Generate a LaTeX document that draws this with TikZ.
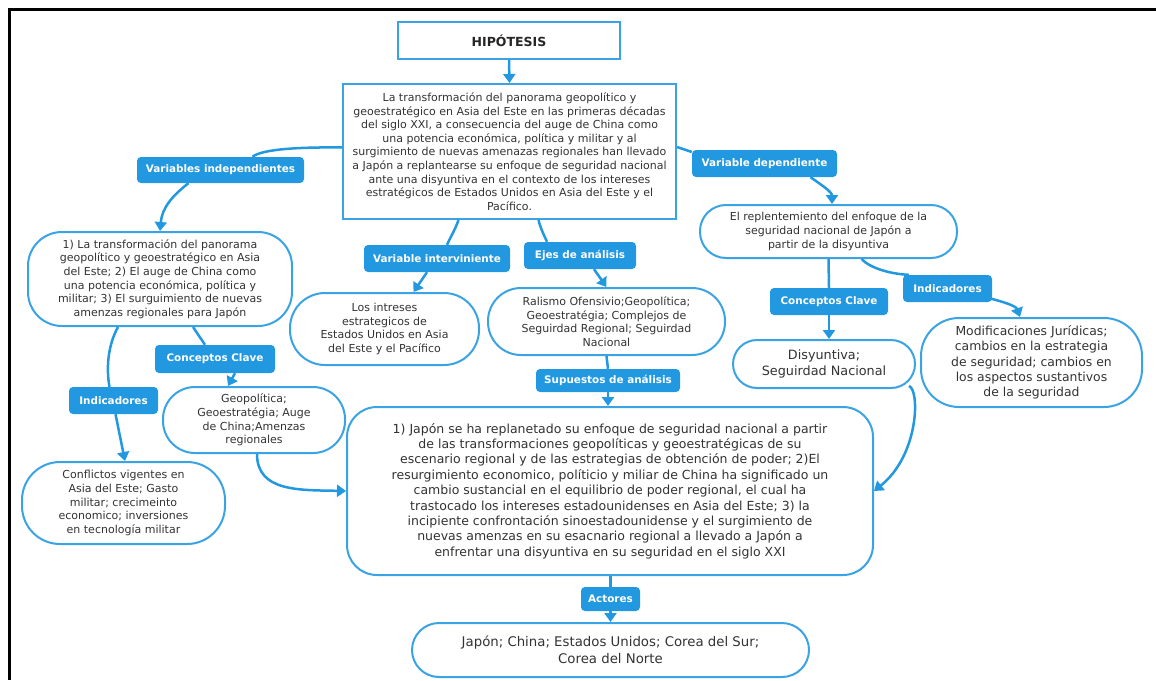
\documentclass[tikz,border=0pt]{standalone}
\usepackage{fontspec}
\setmainfont{DejaVu Sans}
\usetikzlibrary{arrows.meta,calc}
\definecolor{edgeblue}{RGB}{58,163,228}
\definecolor{tagblue}{RGB}{33,152,224}
\definecolor{wireblue}{RGB}{33,152,224}
\definecolor{ink}{RGB}{51,51,51}

\begin{document}
\begin{tikzpicture}[x=1pt,y=-1pt,
  box/.style={draw=edgeblue, line width=2pt, fill=white, text=ink, align=center, inner sep=0pt},
  pill/.style={box, rounded corners=#1},
  small/.style={font=\fontsize{11}{13.6}\selectfont},
  large/.style={font=\fontsize{12.5}{15.4}\selectfont},
  tag/.style={fill=tagblue, rounded corners=4pt, text=white, inner sep=0pt,
    font=\fontsize{10.4}{12}\selectfont\bfseries},
  wire/.style={draw=wireblue, line width=2.5pt},
  arr/.style={wire, -{Triangle[width=12pt,length=9pt]}}
]
\useasboundingbox (0,0) rectangle (1156,680);

% frame
\draw[line width=2.8pt, black] (1156,9.7) -- (9.7,9.7) -- (9.7,680);

% top of the hierarchy
\node[box, minimum width=222pt, minimum height=37pt, text=black!85,
      font=\fontsize{12.5}{14}\selectfont\bfseries] (hip) at (509,40.5) {HIPÓTESIS};
\node[box, small, minimum width=333pt, minimum height=135pt] (main) at (509.5,151.5)
  {La transformación del panorama geopolítico y\\
   geoestratégico en Asia del Este en las primeras décadas\\
   del siglo XXI, a consecuencia del auge de China como\\
   una potencia económica, política y militar y al\\
   surgimiento de nuevas amenazas regionales han llevado\\
   a Japón a replantearse su enfoque de seguridad nacional\\
   ante una disyuntiva en el contexto de los intereses\\
   estratégicos de Estados Unidos en Asia del Este y el\\
   Pacífico.};

% left branch
\node[tag, minimum width=167pt, minimum height=26pt] (vi) at (220.5,170) {Variables independientes};
\node[pill=34pt, small, minimum width=264pt, minimum height=94pt] (n1) at (160,279)
  {1) La transformación del panorama\\
   geopolítico y geoestratégico en Asia\\
   del Este; 2) El auge de China como\\
   una potencia económica, política y\\
   militar; 3) El surguimiento de nuevas\\
   amenzas regionales para Japón};
\node[tag, minimum width=89pt, minimum height=27pt] (ind1) at (113.5,400.5) {Indicadores};
\node[pill=38pt, small, minimum width=203pt, minimum height=82pt] (confl) at (123.5,503)
  {Conflictos vigentes en\\ Asia del Este; Gasto\\ militar; crecimeinto\\ economico; inversiones\\ en tecnología militar};
\node[tag, minimum width=120pt, minimum height=28pt] (cc1) at (215,359) {Conceptos Clave};
\node[pill=32pt, small, minimum width=182pt, minimum height=66pt] (geo) at (254,420)
  {Geopolítica;\\ Geoestratégia; Auge\\ de China;Amenzas\\ regionales};

% middle branch
\node[tag, minimum width=146pt, minimum height=27pt] (vint) at (437,258.5) {Variable interviniente};
\node[pill=35pt, small, minimum width=189pt, minimum height=72pt] (n2) at (384.5,329)
  {Los intreses\\ estrategicos de\\ Estados Unidos en Asia\\ del Este y el Pacífico};
\node[tag, minimum width=112pt, minimum height=27pt] (ejes) at (580,255.5) {Ejes de análisis};
\node[pill=33pt, small, minimum width=237pt, minimum height=67pt] (n3) at (606.5,321.5)
  {Ralismo Ofensivio;Geopolítica;\\ Geoestratégia; Complejos de\\ Seguirdad Regional; Seguirdad\\ Nacional};
\node[tag, minimum width=144pt, minimum height=23pt] (sup) at (608,380.5) {Supuestos de análisis};
\node[pill=30pt, large, minimum width=526pt, minimum height=168pt] (big) at (610,491)
  {1) Japón se ha replanetado su enfoque de seguridad nacional a partir\\
   de las transformaciones geopolíticas y geoestratégicas de su\\
   escenario regional y de las estrategias de obtención de poder; 2)El\\
   resurgimiento economico, políticio y miliar de China ha significado un\\
   cambio sustancial en el equilibrio de poder regional, el cual ha\\
   trastocado los intereses estadounidenses en Asia del Este; 3) la\\
   incipiente confrontación sinoestadounidense y el surgimiento de\\
   nuevas amenzas en su esacnario regional a llevado a Japón a\\
   enfrentar una disyuntiva en su seguridad en el siglo XXI};
\node[tag, minimum width=59pt, minimum height=24pt] (act) at (610.5,599) {Actores};
\node[pill=27pt, minimum width=397pt, minimum height=54pt,
      font=\fontsize{13.3}{17}\selectfont] (actors) at (610.5,650)
  {Japón; China; Estados Unidos; Corea del Sur;\\ Corea del Norte};

% right branch
\node[tag, minimum width=145pt, minimum height=27pt] (vd) at (764.5,163.5) {Variable dependiente};
\node[pill=26pt, small, minimum width=257pt, minimum height=53pt] (n4) at (828.5,231.5)
  {El replentemiento del enfoque de la\\ seguridad nacional de Japón a\\ partir de la disyuntiva};
\node[tag, minimum width=118pt, minimum height=27pt] (cc2) at (829,301.5) {Conceptos Clave};
\node[pill=24pt, minimum width=182pt, minimum height=48pt,
      font=\fontsize{12.8}{16.4}\selectfont] (disy) at (824,364) {Disyuntiva;\\ Seguirdad Nacional};
\node[tag, minimum width=89pt, minimum height=27pt] (ind2) at (947.5,288.5) {Indicadores};
\node[pill=38pt, minimum width=221pt, minimum height=89pt,
      font=\fontsize{12.4}{15.2}\selectfont] (modif) at (1031.5,362.5)
  {Modificaciones Jurídicas;\\ cambios en la estrategia\\ de seguridad; cambios en\\ los aspectos sustantivos\\ de la seguridad};

% connectors: top
\draw[arr] (hip.south) -- (main.north);
\draw[wire] ($(main.west)+(0,-4)$) .. controls (300,147) and (262,149) .. ($(vi.north)+(32,0)$);
\draw[wire] ($(main.east)+(0,-4.5)$) -- ($(vd.west)+(0,-11.5)$);
\draw[wire] ($(main.south)+(-51,0)$) .. controls (455,230) and (450,238) .. ($(vint.north)+(10,0)$);
\draw[wire] ($(main.south)+(29,0)$) .. controls (541,230) and (545,237) .. ($(ejes.north)+(-33,0)$);

% connectors: left branch
\draw[arr] ($(vi.south)+(-32,0)$) .. controls (172,196) and (162,208) .. (n1.north);
\draw[wire] ($(n1.south)+(-42,0)$) .. controls (108,345) and (106,368) .. ($(ind1.north)+(-4,0)$);
\draw[arr] ($(ind1.south)+(2,0)$) -- ($(confl.north)+(1.5,0)$);
\draw[wire] ($(n1.south)+(33,0)$) -- ($(cc1.north)+(-10,0)$);
\draw[arr] ($(cc1.south)+(20,0)$) -- ($(geo.north)+(-26,0)$);
\draw[arr] ($(geo.south)+(3,0)$) .. controls (257,492) and (300,490) .. (big.west);

% connectors: middle branch
\draw[arr] ($(vint.south)+(-10,0)$) -- ($(n2.north)+(29,0)$);
\draw[arr] ($(ejes.south)+(14,0)$) -- (n3.north);
\draw[wire] (n3.south) -- (sup.north);
\draw[arr] (sup.south) -- (sup.south |- big.north);
\draw[wire] (act.north |- big.south) -- (act.north);
\draw[arr] (act.south) -- (actors.north);

% connectors: right branch
\draw[arr] ($(vd.south)+(46,0)$) .. controls (823,186) and (832,192) .. ($(n4.north)+(3.5,0)$);
\draw[wire] (n4.south) -- (cc2.north);
\draw[arr] (cc2.south) -- (cc2.south |- disy.north);
\draw[wire] ($(n4.south)+(33,0)$) .. controls (870,268) and (890,274) .. ($(ind2.north west)+(6,0)$);
\draw[arr] ($(ind2.south east)+(-3,-4)$) .. controls (1004,302) and (1016,306) .. ($(modif.north)+(-11.5,0)$);
\draw[arr] ($(disy.south east)+(-7,-3)$) .. controls (920,390) and (919,455) .. (big.east);
\end{tikzpicture}
\end{document}
